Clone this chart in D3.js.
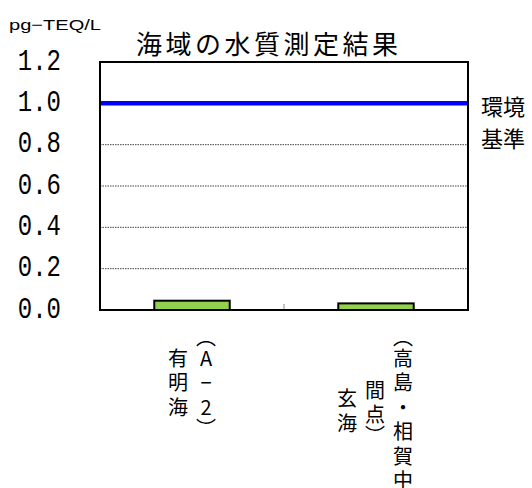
<!DOCTYPE html>
<html>
<head>
<meta charset="utf-8">
<script src="https://cdn.jsdelivr.net/npm/d3@7"></script>
<style>
  html, body { margin: 0; padding: 0; background: #fff; }
  svg { display: block; }
</style>
</head>
<body>
<script>
// Dioxin concentration in sea water (pg-TEQ/L) at two sampling points
const categories = ["有明海（A−2）", "玄海（高島・相賀中間点）"];
const values = [0.045, 0.032];
// Stacked label columns, read left to right
const labelColumns = [
  ["有明海", "（A−2）"],
  ["玄海", "間点）", "（高島・相賀中"]
];
const standardValue = 1.0;
const standardLabel = ["環境", "基準"];
const yTicks = [0, 0.2, 0.4, 0.6, 0.8, 1.0, 1.2];
const yTickLabels = ["0.0", "0.2", "0.4", "0.6", "0.8", "1.0", "1.2"];
const title = "海域の水質測定結果";
const unit = "pg−TEQ/L";

const W = 532, H = 488;
const plot = { left: 100, right: 468, top: 62, bottom: 310 };
const jp = "'Noto Sans CJK JP', 'Noto Sans CJK SC', sans-serif";

const svg = d3.select("body").append("svg").attr("width", W).attr("height", H);

const x = d3.scaleBand()
  .domain(categories)
  .range([plot.left, plot.right])
  .paddingInner(0.59)
  .paddingOuter(0.295);

const y = d3.scaleLinear().domain([0, 1.2]).range([plot.bottom, plot.top]);

// dotted gridlines
svg.append("g")
  .selectAll("line")
  .data(yTicks.filter(d => d > 0 && d < 1.2 && d !== standardValue))
  .join("line")
  .attr("x1", plot.left).attr("x2", plot.right)
  .attr("y1", d => y(d)).attr("y2", d => y(d))
  .attr("stroke", "#444").attr("stroke-width", 1)
  .attr("stroke-dasharray", "1.5,1");

// y tick labels
const yAxis = d3.axisLeft(y)
  .tickValues(yTicks)
  .tickFormat((d, i) => yTickLabels[i])
  .tickSize(0);
const gy = svg.append("g").attr("transform", `translate(${plot.left - 39},0)`).call(yAxis);
gy.select(".domain").remove();
gy.selectAll("text")
  .attr("x", 0)
  .attr("y", 0)
  .attr("dy", null)
  .attr("dominant-baseline", "central")
  .attr("text-anchor", "end")
  .attr("font-family", "'Liberation Mono', 'DejaVu Sans Mono', monospace")
  .attr("font-size", 24)
  .attr("fill", "#000")
  .attr("transform", "translate(0,-1) scale(1,1.25)");

// bars
svg.append("g")
  .selectAll("rect")
  .data(values)
  .join("rect")
  .attr("x", (d, i) => x(categories[i]))
  .attr("width", x.bandwidth())
  .attr("y", d => y(d))
  .attr("height", d => y(0) - y(d))
  .attr("fill", "#92d050")
  .attr("stroke", "#000")
  .attr("stroke-width", 2);

// tick between categories
const boundaries = categories.slice(1).map((c, i) =>
  (x(categories[i]) + x.bandwidth() + x(c)) / 2);
svg.append("g")
  .selectAll("line")
  .data(boundaries)
  .join("line")
  .attr("x1", d => d).attr("x2", d => d)
  .attr("y1", plot.bottom).attr("y2", plot.bottom - 6)
  .attr("stroke", "#888").attr("stroke-width", 1);

// standard line
svg.append("line")
  .attr("x1", plot.left).attr("x2", plot.right)
  .attr("y1", y(standardValue)).attr("y2", y(standardValue))
  .attr("stroke", "#0000ff").attr("stroke-width", 4.5);

// plot frame
svg.append("rect")
  .attr("x", plot.left).attr("y", plot.top)
  .attr("width", plot.right - plot.left).attr("height", plot.bottom - plot.top)
  .attr("fill", "none").attr("stroke", "#000").attr("stroke-width", 2);

// standard label
svg.append("text")
  .attr("font-family", jp).attr("font-size", 22).attr("fill", "#000")
  .selectAll("tspan")
  .data(standardLabel)
  .join("tspan")
  .attr("x", 481)
  .attr("y", (d, i) => y(standardValue) + 2 + i * 32)
  .attr("dominant-baseline", "central")
  .text(d => d);

// title and unit
svg.append("text")
  .attr("x", 136).attr("y", 54)
  .attr("font-family", jp).attr("font-size", 26)
  .attr("textLength", 262).attr("lengthAdjust", "spacing")
  .attr("fill", "#000")
  .text(title);

svg.append("text")
  .attr("x", 9).attr("y", 30)
  .attr("font-family", "'Liberation Sans', sans-serif").attr("font-size", 15)
  .attr("textLength", 92).attr("lengthAdjust", "spacingAndGlyphs")
  .attr("fill", "#000")
  .text(unit);

// stacked vertical category labels
const vertForm = { "（": "︵", "）": "︶" };
const fullStep = 24.5, parenStep = 17, colGap = 28, blockTop = plot.bottom + 18;
const colHeight = s => Array.from(s).reduce((a, ch) => a + (vertForm[ch] ? parenStep : fullStep), 0);

labelColumns.forEach((cols, ci) => {
  const cx = x(categories[ci]) + x.bandwidth() / 2 - (ci === 1 ? 1 : 0);
  const blockH = d3.max(cols, colHeight);
  cols.forEach((col, k) => {
    const colX = cx + (k - (cols.length - 1) / 2) * colGap;
    let yy = blockTop + (blockH - colHeight(col)) / 2;
    const chars = Array.from(col).map(ch => {
      const step = vertForm[ch] ? parenStep : fullStep;
      const pos = { ch: vertForm[ch] || ch, y: yy + step / 2 };
      yy += step;
      return pos;
    });
    svg.append("text")
      .attr("font-family", jp).attr("font-size", 20).attr("fill", "#000")
      .attr("text-anchor", "middle")
      .selectAll("tspan")
      .data(chars)
      .join("tspan")
      .attr("x", colX)
      .attr("y", d => d.y)
      .attr("dominant-baseline", "central")
      .text(d => d.ch);
  });
});
</script>
</body>
</html>
